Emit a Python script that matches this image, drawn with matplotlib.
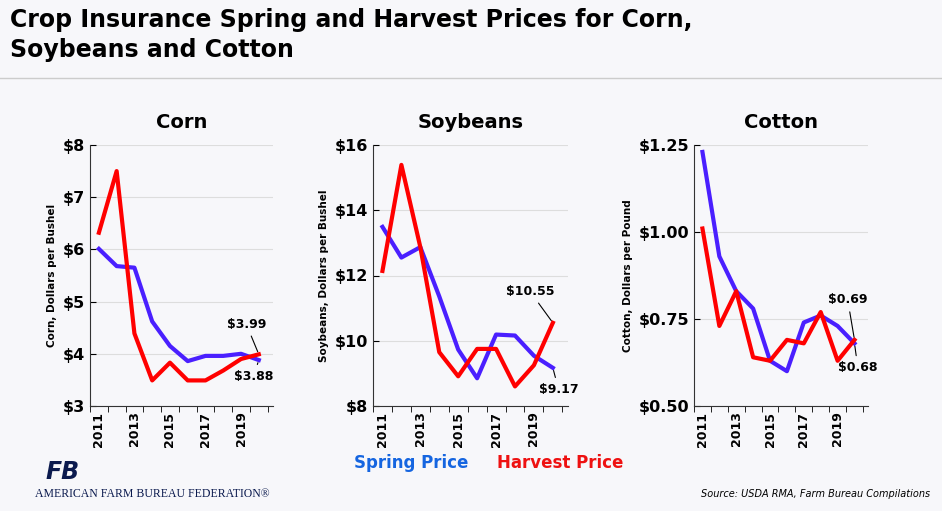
import numpy as np
import matplotlib.pyplot as plt

years = list(range(2011, 2021))

corn_spring = [6.01, 5.68, 5.65, 4.62, 4.15, 3.86, 3.96, 3.96, 4.00, 3.88]
corn_harvest = [6.32, 7.50, 4.39, 3.49, 3.83, 3.49, 3.49, 3.68, 3.90, 3.99]
soy_spring = [13.49, 12.55, 12.87, 11.36, 9.73, 8.85, 10.19, 10.16, 9.54, 9.17]
soy_harvest = [12.14, 15.39, 12.87, 9.65, 8.91, 9.75, 9.75, 8.60, 9.25, 10.55]
cotton_spring = [1.23, 0.93, 0.83, 0.78, 0.63, 0.60, 0.74, 0.76, 0.73, 0.68]
cotton_harvest = [1.01, 0.73, 0.83, 0.64, 0.63, 0.69, 0.68, 0.77, 0.63, 0.69]

SPRING = '#4a1fff'
HARVEST = '#ff0000'
BG = '#f7f7fa'

fig = plt.figure(figsize=(9.42, 5.11), dpi=100, facecolor=BG)
W, H = 942, 511

def ax_at(x0, y0, x1, y1):
    return fig.add_axes([x0 / W, 1 - y1 / H, (x1 - x0) / W, (y1 - y0) / H])

panels = [
    ('Corn', corn_spring, corn_harvest, (3, 8), [3, 4, 5, 6, 7, 8], '${:.0f}',
     'Corn, Dollars per Bushel', (90, 145, 273, 406)),
    ('Soybeans', soy_spring, soy_harvest, (8, 16), [8, 10, 12, 14, 16], '${:.0f}',
     'Soybeans, Dollars per Bushel', (373, 145, 568, 406)),
    ('Cotton', cotton_spring, cotton_harvest, (0.5, 1.25), [0.5, 0.75, 1.0, 1.25], '${:.2f}',
     'Cotton, Dollars per Pound', (694, 145, 868, 406)),
]

axes = []
for name, sp, hv, ylim, yt, fmt, ylab, box in panels:
    ax = ax_at(*box)
    ax.set_facecolor(BG)
    ax.plot(years, sp, color=SPRING, lw=3)
    ax.plot(years, hv, color=HARVEST, lw=3)
    ax.set_xlim(2010.5, 2020.8)
    ax.set_ylim(*ylim)
    ax.set_yticks(yt)
    ax.set_yticklabels([fmt.format(v) for v in yt], fontsize=11.5, fontweight='bold')
    ax.set_xticks([2011, 2013, 2015, 2017, 2019])
    ax.set_xticks(np.arange(2010.5, 2021, 1), minor=True)
    ax.set_xticklabels(['2011', '2013', '2015', '2017', '2019'], rotation=90,
                       fontsize=9, fontweight='bold')
    ax.tick_params(axis='x', which='major', length=0, pad=4)
    ax.tick_params(axis='x', which='minor', length=4)
    ax.tick_params(axis='y', length=4, direction='in')
    ax.grid(axis='y', color='#dddddd', lw=0.8)
    ax.set_axisbelow(True)
    for s in ['top', 'right']:
        ax.spines[s].set_visible(False)
    for s in ['left', 'bottom']:
        ax.spines[s].set_color('#333333')
    ax.set_ylabel(ylab, fontsize=7.5, fontweight='bold')
    ax.set_title(name, fontsize=14, fontweight='bold', pad=12)
    axes.append(ax)

# end-point annotations
ann = dict(fontsize=9, fontweight='bold', ha='center',
           arrowprops=dict(arrowstyle='-', color='black', lw=0.8))
axes[0].annotate('$%.2f' % corn_harvest[-1], xy=(2020, corn_harvest[-1]), xytext=(2019.3, 4.5), **ann)
axes[0].annotate('$%.2f' % corn_spring[-1], xy=(2020, corn_spring[-1]), xytext=(2019.7, 3.5), **ann)
axes[1].annotate('$%.2f' % soy_harvest[-1], xy=(2020, soy_harvest[-1]), xytext=(2018.8, 11.4), **ann)
axes[1].annotate('$%.2f' % soy_spring[-1], xy=(2020, soy_spring[-1]), xytext=(2020.3, 8.4), **ann)
axes[2].annotate('$%.2f' % cotton_harvest[-1], xy=(2020, cotton_harvest[-1]), xytext=(2019.6, 0.795), **ann)
axes[2].annotate('$%.2f' % cotton_spring[-1], xy=(2020, cotton_spring[-1]), xytext=(2020.2, 0.6), **ann)

fig.text(10 / W, 1 - 35 / H, 'Crop Insurance Spring and Harvest Prices for Corn,\nSoybeans and Cotton',
         fontsize=17, fontweight='bold', va='center', ha='left', linespacing=1.3)
fig.add_artist(plt.Line2D([0, 1], [1 - 78 / H, 1 - 78 / H], color='#cccccc', lw=1))

fig.text(411 / W, 1 - 463 / H, 'Spring Price', color='#1565e0', fontsize=12, fontweight='bold',
         ha='center', va='center')
fig.text(560 / W, 1 - 463 / H, 'Harvest Price', color='#ee1111', fontsize=12, fontweight='bold',
         ha='center', va='center')

fig.text(45 / W, 1 - 472 / H, 'FB', color='#0b1a4e', fontsize=17, fontweight='bold',
         style='italic', ha='left', va='center')
fig.text(35 / W, 1 - 494 / H, 'AMERICAN FARM BUREAU FEDERATION®', color='#0b1a4e', fontsize=8.5,
         family='Liberation Serif', ha='left', va='center')
fig.text(930 / W, 1 - 494 / H, 'Source: USDA RMA, Farm Bureau Compilations', fontsize=7,
         style='italic', ha='right', va='center')

fig.savefig('out.png', dpi=100, facecolor=BG)
